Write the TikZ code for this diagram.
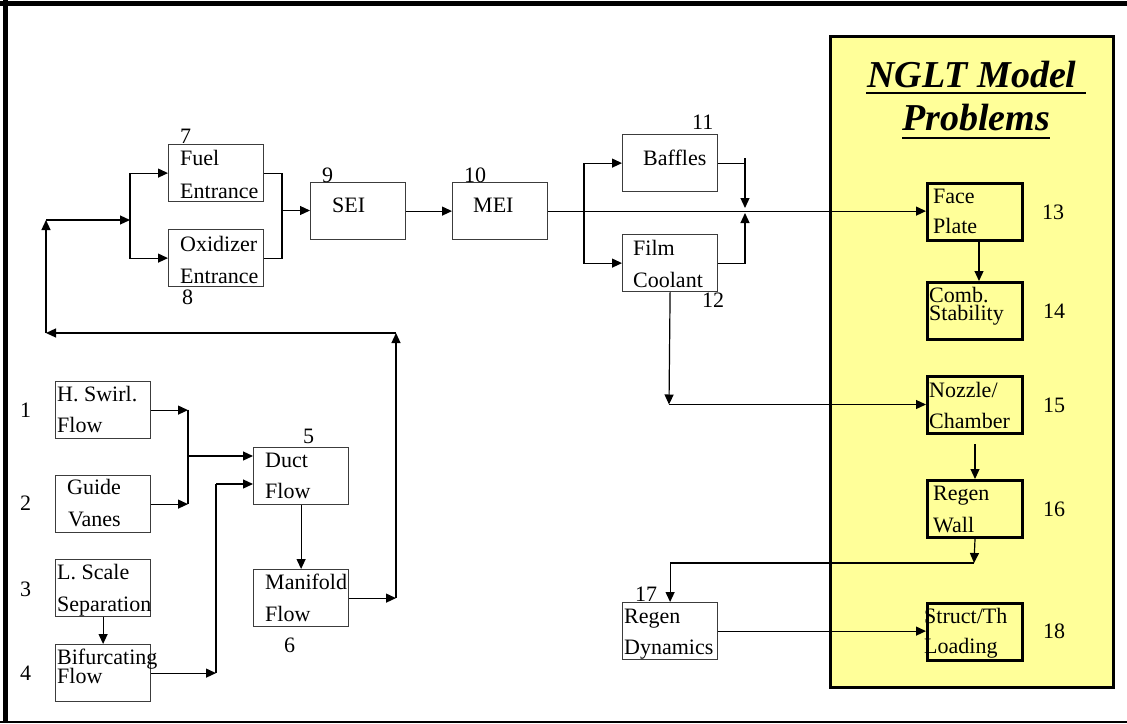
\documentclass[tikz,border=0pt]{standalone}
\usepackage{fontspec}
\setmainfont{Liberation Serif}
\usetikzlibrary{arrows.meta,calc}
\definecolor{panelyellow}{RGB}{255,255,153}
\definecolor{boxgray}{RGB}{60,60,60}
\tikzset{
  box/.style={draw=boxgray,line width=1.2pt,minimum width=95pt,minimum height=57pt,inner sep=0pt,anchor=north west},
  tbox/.style={draw=black,line width=3pt,minimum width=95pt,minimum height=57pt,inner sep=0pt,anchor=north west},
  txt/.style={inner sep=0pt,anchor=base west,font=\fontsize{22}{26}\selectfont},
  ttl/.style={inner sep=0pt,anchor=base west,font=\fontsize{38}{44}\selectfont\bfseries\itshape},
  arr/.style={draw=black,line width=1.2pt,-{Triangle[length=10pt,width=9pt]}},
  ln/.style={draw=black,line width=1.2pt},
}
\begin{document}
\begin{tikzpicture}[x=1pt,y=-1pt]
\useasboundingbox (0,0) rectangle (1127,723);
% frame
\draw[line width=5pt] (0,3.5) -- (1127,3.5);
\draw[line width=5pt] (5,0) -- (5,723);
\draw[line width=2pt] (0,721.5) -- (1127,721.5);
% right panel
\draw[fill=panelyellow,line width=3pt] (830,36) rectangle (1113,687);
\node[ttl] (t1) at (867,87) {NGLT Model};
\node[ttl] (t2) at (902,130) {Problems};
\draw[line width=2pt] (866,93) -- (1086,93);
\draw[line width=2pt] (902,138) -- (1050,138);

% boxes
\node[box] (fuel) at (168,144) {};
\node[box] (ox) at (168,229) {};
\node[box] (sei) at (310,182) {};
\node[box] (mei) at (452,182) {};
\node[box] (baf) at (622,134) {};
\node[box] (film) at (622,234) {};
\node[tbox] (face) at (926,182) {};
\node[tbox] (comb) at (926,281) {};
\node[tbox] (noz) at (926,375) {};
\node[tbox] (rw) at (926,479) {};
\node[tbox] (st) at (926,602) {};
\node[box] (rd) at (622,602) {};
\node[box] (hs) at (55,381) {};
\node[box] (gv) at (55,475) {};
\node[box] (ls) at (55,559) {};
\node[box] (bf) at (55,644) {};
\node[box] (duct) at (253,447) {};
\node[box] (man) at (253,569) {};

% texts
\node[txt] (fuel1) at (180,165) {Fuel};
\node[txt] (fuel2) at (180,198) {Entrance};
\node[txt] (ox1) at (180,251) {Oxidizer};
\node[txt] (ox2) at (180,283) {Entrance};
\node[txt] (sei1) at (332,212) {SEI};
\node[txt] (mei1) at (473,212) {MEI};
\node[txt] (baf1) at (643,165) {Baffles};
\node[txt] (film1) at (633,255) {Film};
\node[txt] (film2) at (633,287) {Coolant};
\node[txt] (face1) at (933,203) {Face};
\node[txt] (face2) at (933,233) {Plate};
\node[txt] (comb1) at (929,302) {Comb.};
\node[txt] (comb2) at (929,320) {Stability};
\node[txt] (noz1) at (929,397) {Nozzle/};
\node[txt] (noz2) at (929,428) {Chamber};
\node[txt] (rw1) at (933,500) {Regen};
\node[txt] (rw2) at (933,532) {Wall};
\node[txt] (st1) at (924,623) {Struct/Th};
\node[txt] (st2) at (924,653) {Loading};
\node[txt] (rd1) at (624,623) {Regen};
\node[txt] (rd2) at (624,654) {Dynamics};
\node[txt] (hs1) at (57,401) {H. Swirl.};
\node[txt] (hs2) at (57,432) {Flow};
\node[txt] (gv1) at (67,494) {Guide};
\node[txt] (gv2) at (68,526) {Vanes};
\node[txt] (ls1) at (57,579) {L. Scale};
\node[txt] (ls2) at (57,611) {Separation};
\node[txt] (bf1) at (57,664) {Bifurcating};
\node[txt] (bf2) at (57,683) {Flow};
\node[txt] (duct1) at (265,467) {Duct};
\node[txt] (duct2) at (265,498) {Flow};
\node[txt] (man1) at (265,589) {Manifold};
\node[txt] (man2) at (265,621) {Flow};

% numbers
\node[txt] (n1) at (20,417) {1};
\node[txt] (n2) at (20,510) {2};
\node[txt] (n3) at (20,596) {3};
\node[txt] (n4) at (20,680) {4};
\node[txt] (n5) at (303,443) {5};
\node[txt] (n6) at (284,652) {6};
\node[txt] (n7) at (180,143) {7};
\node[txt] (n8) at (182,304) {8};
\node[txt] (n9) at (322,182) {9};
\node[txt] (n10) at (464,182) {10};
\node[txt] (n11) at (692,129) {11};
\node[txt] (n12) at (702,307) {12};
\node[txt] (n13) at (1042,219) {13};
\node[txt] (n14) at (1043,318) {14};
\node[txt] (n15) at (1043,412) {15};
\node[txt] (n16) at (1043,516) {16};
\node[txt] (n17) at (635,601) {17};
\node[txt] (n18) at (1043,638) {18};

% coordinates
\coordinate (jfo) at (282,210.5);
\coordinate (mo) at (396,597.5);
\coordinate (fb1) at (396,333);
\coordinate (fb2) at (46,333);
\coordinate (fb3) at (46,220);
\coordinate (split) at (130,220);
\coordinate (br) at (584,210.5);
\coordinate (bt) at (745,158);
\coordinate (mjt) at (745,208);
\coordinate (mjb) at (745,213);
\coordinate (fd) at (669,404.5);
\coordinate (rwd) at (974,563);
\coordinate (hsj) at (188,409.5);
\coordinate (gvj) at (188,503.5);
\coordinate (dj) at (188,456);
\coordinate (bfj) at (216,672.5);
\coordinate (dk) at (216,484);

% connectors
\draw[ln] (fuel.east) -| (jfo);
\draw[ln] (ox.east) -| (jfo);
\draw[arr] (jfo) -- (jfo -| sei.west);
\draw[arr] (man.east) -- (man.east -| mo);
\draw[arr] (mo) -- (fb1);
\draw[arr] (fb1) -- (fb2);
\draw[arr] (fb2) -- (fb3);
\draw[arr] (fb3) -- (split);
\draw[arr] (split) |- (fuel.west);
\draw[arr] (split) |- (ox.west);
\draw[arr] (sei.east) -- (sei.east -| mei.west);
\draw[arr] (mei.east) -- (mei.east -| face.west);
\draw[arr] (br) |- (baf.west);
\draw[arr] (br) |- (film.west);
\draw[ln] (baf.east) -- (baf.east -| bt);
\draw[arr] (bt) -- (mjt);
\draw[arr] (film.east) -| (mjb);
\draw[arr] (film.south) -- (fd);
\draw[arr] (fd) -- (fd -| noz.west);
\draw[arr] ([xshift=4pt]face.south) -- ([xshift=4pt]comb.north);
\draw[arr] ([yshift=-9pt]noz.south) -- (rw.north);
\draw[arr] (rw.south) -- (rwd);
\draw[arr] (rwd) -| (rd.north);
\draw[arr] (rd.east) -- (rd.east -| st.west);
\draw[arr] (hs.east) -- (hs.east -| hsj);
\draw[arr] (gv.east) -- (gv.east -| gvj);
\draw[ln] (hsj) -- (gvj);
\draw[arr] (dj) -- (dj -| duct.west);
\draw[arr] (bf.east) -- (bf.east -| bfj);
\draw[ln] (bfj) -- (dk);
\draw[arr] (dk) -- (dk -| duct.west);
\draw[arr] (ls.south) -- (bf.north);
\draw[arr] (duct.south) -- (man.north);
\end{tikzpicture}
\end{document}
